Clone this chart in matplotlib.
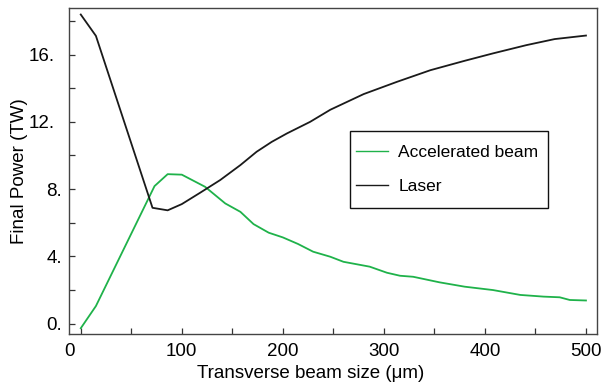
import matplotlib
matplotlib.use("Agg")
import matplotlib.pyplot as plt
import matplotlib.transforms as mtransforms
from matplotlib.patches import Rectangle

plt.rcParams['font.family'] = ['Liberation Sans', 'DejaVu Sans']

# Laser (black) and accelerated beam (green)
laser_x = [0, 15, 71, 86, 100, 118, 138, 158, 174, 189, 204, 227, 247, 280,
           313, 346, 380, 408, 441, 469, 500]
laser_y = [18.38, 17.11, 6.89, 6.74, 7.11, 7.78, 8.54, 9.43, 10.22, 10.81,
           11.31, 12.0, 12.72, 13.65, 14.38, 15.07, 15.63, 16.07, 16.56,
           16.92, 17.13]

beam_x = [0, 15, 73, 86, 100, 123, 143, 158, 171, 186, 200, 215, 230, 247,
          260, 286, 303, 316, 329, 355, 380, 408, 435, 458, 474, 484, 500]
beam_y = [-0.27, 1.05, 8.18, 8.89, 8.86, 8.14, 7.15, 6.65, 5.92, 5.41, 5.13,
          4.74, 4.28, 3.98, 3.68, 3.39, 3.03, 2.85, 2.79, 2.46, 2.20, 2.00,
          1.71, 1.61, 1.57, 1.41, 1.38]

x_ticks = [0, 100, 200, 300, 400, 500]
x_minor = [50, 150, 250, 350, 450]
y_ticks = [0, 4, 8, 12, 16]
y_minor = [2, 6, 10, 14, 18]
y_labels = ['0.', '4.', '8.', '12.', '16.']

fig = plt.figure(figsize=(6.03, 3.85), dpi=100)
ax = fig.add_axes([0.115, 0.1317, 0.8745, 0.8463])

green = '#1fb24a'
dark = '#1a1a1a'
ax.plot(beam_x, beam_y, color=green, lw=1.3, label='Accelerated beam')
ax.plot(laser_x, laser_y, color=dark, lw=1.3, label='Laser')

ax.set_xlim(-11.3, 510.6)
ax.set_ylim(-0.63, 18.74)

ax.set_xticks(x_ticks)
ax.set_xticks(x_minor, minor=True)
ax.set_yticks(y_ticks)
ax.set_yticklabels(y_labels)
ax.set_yticks(y_minor, minor=True)

for s in ax.spines.values():
    s.set_color('#444444')
    s.set_linewidth(1.0)

ax.tick_params(which='both', direction='in', length=4.3, width=0.9,
               color='#333333', labelsize=13.5, top=False, right=False)
ax.tick_params(axis='x', pad=6)
ax.tick_params(axis='y', pad=9)

def shift(lbl, dx):
    lbl.set_transform(lbl.get_transform() +
                      mtransforms.ScaledTranslation(dx / 100, 0, fig.dpi_scale_trans))

# the "0" label sits left of its tick in the original
shift(ax.get_xticklabels()[0], -11)
for lbl in ax.get_yticklabels():
    shift(lbl, 5 if len(lbl.get_text()) == 2 else -2)

ax.set_xlabel('Transverse beam size (\u03bcm)', fontsize=13.5)
ax.xaxis.set_label_coords(0.458, -0.095, transform=ax.transAxes)
ax.set_ylabel('Final Power (TW)', fontsize=13.5, labelpad=0.5)

# legend box drawn separately so its size matches
ax.add_patch(Rectangle((0.5317, 0.3865), 0.3754, 0.238, transform=ax.transAxes,
                       fill=True, facecolor='white', edgecolor='#111111',
                       lw=1.0, zorder=4))
leg = ax.legend(loc='center left', bbox_to_anchor=(0.543, 0.5055),
                borderaxespad=0, borderpad=0, frameon=False, fontsize=12.5,
                handlelength=1.85, handletextpad=0.6, labelspacing=1.1)
leg.set_zorder(5)
for h in leg.get_lines():
    h.set_linewidth(1.0)

fig.savefig('out.png', dpi=100)
